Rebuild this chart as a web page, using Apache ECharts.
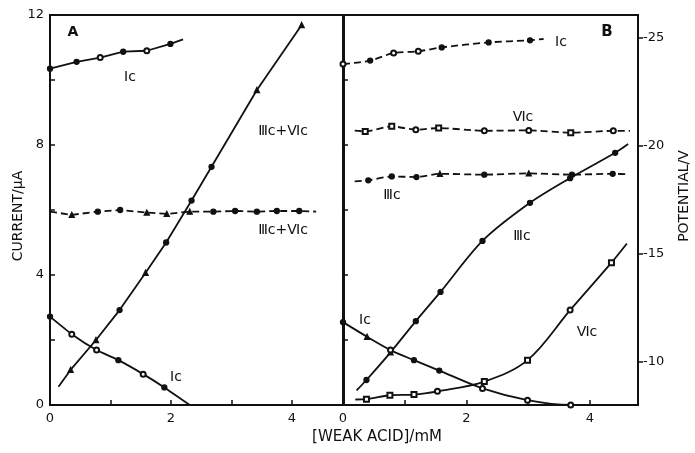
<!DOCTYPE html>
<html><head><meta charset="utf-8">
<script src="https://cdn.jsdelivr.net/npm/echarts@6/dist/echarts.min.js"></script>
<style>html,body{margin:0;padding:0;background:#fff}#c{width:695px;height:453px}</style>
</head><body><div id="c"></div>
<script>
// ---- Panel A data (current, uA vs weak acid, mM) ----
const aX_IcTop = [0, 0.44, 0.83, 1.21, 1.60, 1.99, 2.2];
const aY_IcTop = [10.35, 10.56, 10.69, 10.87, 10.90, 11.11, 11.25];
const aX_Rise = [0.14, 0.34, 0.76, 1.15, 1.58, 1.92, 2.34, 2.67, 3.42, 4.16];
const aY_Rise = [0.56, 1.08, 2.0, 2.92, 4.07, 5.0, 6.29, 7.33, 9.69, 11.69];
const aX_Dash = [0, 0.36, 0.79, 1.16, 1.60, 1.93, 2.31, 2.70, 3.06, 3.42, 3.75, 4.12, 4.40];
const aY_Dash = [5.95, 5.85, 5.95, 6.0, 5.92, 5.88, 5.95, 5.95, 5.97, 5.95, 5.97, 5.97, 5.95];
const aX_IcLow = [0, 0.36, 0.77, 1.13, 1.54, 1.89, 2.31];
const aY_IcLow = [2.72, 2.18, 1.69, 1.38, 0.95, 0.54, 0];
// ---- Panel B data ----
// potentials (V)
const bX_IcPot = [0, 0.44, 0.82, 1.22, 1.60, 2.36, 3.03, 3.25];
const bY_IcPot = [-23.78, -23.94, -24.29, -24.37, -24.55, -24.78, -24.88, -24.94];
const bX_VIcPot = [0.19, 0.36, 0.79, 1.18, 1.55, 2.29, 3.01, 3.69, 4.38, 4.65];
const bY_VIcPot = [-20.70, -20.66, -20.90, -20.74, -20.82, -20.69, -20.71, -20.60, -20.69, -20.69];
const bX_IIIcPot = [0.19, 0.41, 0.79, 1.19, 1.57, 2.29, 3.01, 3.71, 4.37, 4.62];
const bY_IIIcPot = [-18.35, -18.40, -18.58, -18.55, -18.70, -18.66, -18.72, -18.66, -18.70, -18.68];
// currents (uA)
const bX_IIIcCur = [0.22, 0.38, 0.77, 1.18, 1.58, 2.26, 3.03, 3.68, 4.41, 4.62];
const bY_IIIcCur = [0.45, 0.77, 1.62, 2.58, 3.48, 5.05, 6.22, 6.98, 7.76, 8.03];
const bX_IcCur = [0, 0.39, 0.77, 1.15, 1.56, 2.26, 2.99, 3.69, 3.9];
const bY_IcCur = [2.55, 2.1, 1.69, 1.38, 1.06, 0.51, 0.15, 0.0, 0.0];
const bX_VIcCur = [0.2, 0.38, 0.76, 1.15, 1.53, 2.29, 2.99, 3.68, 4.35, 4.6];
const bY_VIcCur = [0.17, 0.18, 0.30, 0.32, 0.42, 0.72, 1.38, 2.92, 4.38, 4.97];
// ---- tick labels ----
const potTicks = [-25, -20, -15, -10];

// ---- styles (marker kinds) ----
const MK = {
  aIcTop: 'ffofof-', aRise: '-ttftffftt', aDash: '-tfftttfffff-', aIcLow: 'foofof-',
  bIcPot: 'ofoofff-', bVIcPot: '-ssosooso-', bIIIcPot: '-ffftftff-',
  bIIIcCur: '-ftffffff-', bIcCur: 'ftoffooo-', bVIcCur: '-sssossos-'
};
const SYM = {f:'circle', o:'emptyCircle', t:'triangle', s:'emptyRect', '-':'none'};
const INK = '#111';
const FONT = 'DejaVu Sans';

function line(xs, ys, xi, yi, marks, dashed, smooth) {
  return {
    type: 'line', xAxisIndex: xi, yAxisIndex: yi,
    data: xs.map((x, i) => [x, ys[i]]),
    symbol: (v, p) => SYM[marks[p.dataIndex]] || 'none',
    symbolSize: 5, showAllSymbol: true, smooth: smooth,
    lineStyle: {color: INK, width: 1.8, type: dashed ? [7, 4] : 'solid'},
    itemStyle: {color: INK, borderColor: INK, borderWidth: 1.3},
    z: 3
  };
}

const chart = echarts.init(document.getElementById('c'), null, {renderer: 'canvas'});
const tickStyle = {color: INK, width: 1.5};
const lab = {color: INK, fontSize: 13, fontFamily: FONT};
const option = {
  animation: false,
  backgroundColor: '#fff',
  grid: [
    {left: 50, top: 15, width: 294, height: 390, show: true, borderColor: INK, borderWidth: 2, backgroundColor: 'transparent'},
    {left: 343, top: 15, width: 295, height: 390, show: true, borderColor: INK, borderWidth: 2, backgroundColor: 'transparent'}
  ],
  xAxis: [
    {gridIndex: 0, type: 'value', min: 0, max: 4.86, interval: 1, axisLine: {show: false},
     axisTick: {inside: true, length: 5, lineStyle: tickStyle}, splitLine: {show: false},
     axisLabel: Object.assign({margin: 7, formatter: v => (v % 2 === 0 ? String(v) : '')}, lab)},
    {gridIndex: 1, type: 'value', min: 0, max: 4.78, interval: 1, axisLine: {show: false},
     axisTick: {inside: true, length: 5, lineStyle: tickStyle}, splitLine: {show: false},
     axisLabel: Object.assign({margin: 7, formatter: v => (v % 2 === 0 ? String(v) : '')}, lab)}
  ],
  yAxis: [
    {gridIndex: 0, type: 'value', min: 0, max: 12, interval: 2, axisLine: {show: false},
     axisTick: {inside: true, length: 5, lineStyle: tickStyle}, splitLine: {show: false},
     axisLabel: Object.assign({margin: 6, formatter: v => (v % 4 === 0 ? String(v) : '')}, lab)},
    {gridIndex: 1, type: 'value', min: 0, max: 12, interval: 2, axisLine: {show: false},
     axisTick: {inside: true, length: 5, lineStyle: tickStyle}, splitLine: {show: false},
     axisLabel: {show: false}},
    {gridIndex: 1, type: 'value', position: 'right', inverse: true, min: -26.05, max: -8,
     axisLine: {show: false}, splitLine: {show: false},
     axisTick: {show: true, inside: false, length: 5, lineStyle: tickStyle, customValues: potTicks},
     axisLabel: Object.assign({margin: 5, customValues: potTicks, formatter: v => String(v)}, lab)}
  ],
  series: [
    line(aX_IcTop, aY_IcTop, 0, 0, MK.aIcTop, false, false),
    line(aX_Rise, aY_Rise, 0, 0, MK.aRise, false, false),
    line(aX_Dash, aY_Dash, 0, 0, MK.aDash, true, false),
    line(aX_IcLow, aY_IcLow, 0, 0, MK.aIcLow, false, 0.15),
    line(bX_IcPot, bY_IcPot, 1, 2, MK.bIcPot, true, 0.3),
    line(bX_VIcPot, bY_VIcPot, 1, 2, MK.bVIcPot, true, 0.2),
    line(bX_IIIcPot, bY_IIIcPot, 1, 2, MK.bIIIcPot, true, 0.2),
    line(bX_IIIcCur, bY_IIIcCur, 1, 1, MK.bIIIcCur, false, 0.3),
    line(bX_IcCur, bY_IcCur, 1, 1, MK.bIcCur, false, 0.3),
    line(bX_VIcCur, bY_VIcCur, 1, 1, MK.bVIcCur, false, 0.35)
  ],
  graphic: [
    ['A', 73, 32, 14, 'bold'], ['Ic', 130, 77, 14], ['Ⅲc+Ⅵc', 283, 131, 14], ['Ⅲc+Ⅵc', 283, 230, 14],
    ['Ic', 176, 377, 14], ['B', 607, 32, 15, 'bold'], ['Ic', 561, 42, 14], ['Ⅵc', 523, 117, 14],
    ['Ⅲc', 392, 195, 14], ['Ⅲc', 522, 236, 14], ['Ic', 365, 320, 14], ['Ⅵc', 587, 332, 14],
    ['[WEAK ACID]/mM', 377, 437, 15]
  ].map(t => ({type: 'text', x: t[1], y: t[2], z: 10,
    style: {text: t[0], fill: INK, font: (t[4] || 'normal') + ' ' + t[3] + 'px "' + FONT + '"', align: 'center', verticalAlign: 'middle'}}))
  .concat([
    {type: 'text', x: 18, y: 216, rotation: Math.PI / 2, z: 10,
     style: {text: 'CURRENT/μA', fill: INK, font: '14px "' + FONT + '"', align: 'center', verticalAlign: 'middle'}},
    {type: 'text', x: 684, y: 196, rotation: Math.PI / 2, z: 10,
     style: {text: 'POTENTIAL/V', fill: INK, font: '14px "' + FONT + '"', align: 'center', verticalAlign: 'middle'}}
  ])
};
chart.setOption(option);
</script></body></html>
